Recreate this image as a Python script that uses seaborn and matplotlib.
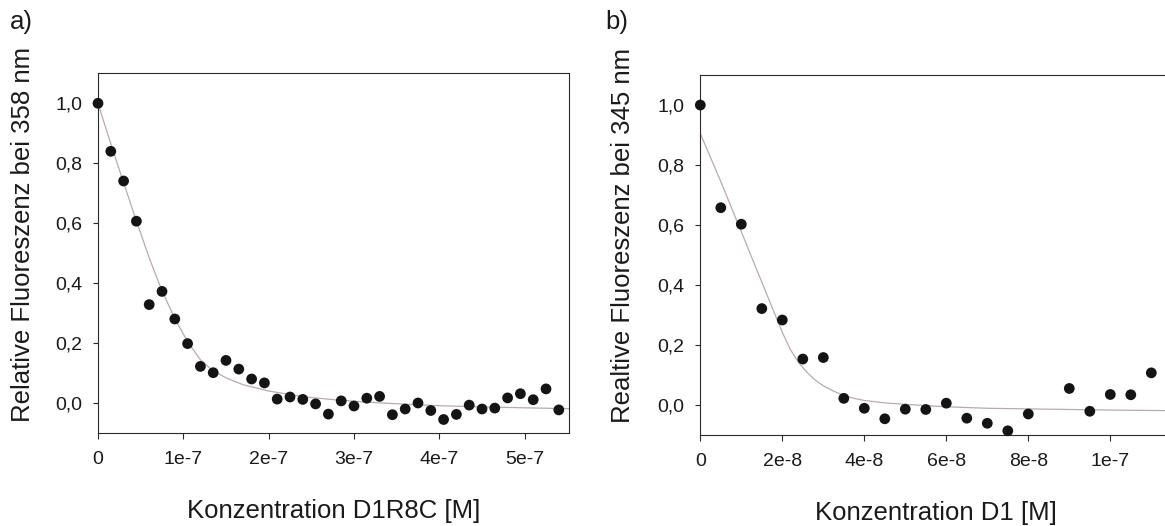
import matplotlib
matplotlib.use("Agg")
import matplotlib.pyplot as plt
import pandas as pd
import seaborn as sns

# ---------------- data ----------------
conc_a = [0, 15e-9, 30e-9, 45e-9, 60e-9, 75e-9, 90e-9, 105e-9, 120e-9, 135e-9,
          150e-9, 165e-9, 180e-9, 195e-9, 210e-9, 225e-9, 240e-9, 255e-9, 270e-9,
          285e-9, 300e-9, 315e-9, 330e-9, 345e-9, 360e-9, 375e-9, 390e-9, 405e-9,
          420e-9, 435e-9, 450e-9, 465e-9, 480e-9, 495e-9, 510e-9, 525e-9, 540e-9]
fluor_a = [1.00, 0.84, 0.741, 0.607, 0.329, 0.373, 0.281, 0.199, 0.123, 0.102,
           0.143, 0.114, 0.081, 0.068, 0.014, 0.021, 0.013, -0.002, -0.036,
           0.008, -0.009, 0.017, 0.023, -0.038, -0.019, 0.001, -0.024, -0.054,
           -0.037, -0.006, -0.019, -0.016, 0.018, 0.032, 0.012, 0.048, -0.022]

fit_x_a = [0, 0.15e-7, 0.30e-7, 0.45e-7, 0.60e-7, 0.75e-7, 0.90e-7, 1.05e-7,
           1.20e-7, 1.35e-7, 1.50e-7, 1.70e-7, 2.00e-7, 2.40e-7, 2.80e-7,
           3.20e-7, 3.60e-7, 4.00e-7, 4.50e-7, 5.00e-7, 5.52e-7]
fit_y_a = [1.000, 0.865, 0.735, 0.608, 0.485, 0.375, 0.283, 0.205, 0.145,
           0.108, 0.085, 0.062, 0.041, 0.022, 0.011, 0.003, -0.003, -0.008,
           -0.012, -0.015, -0.018]

conc_b = [0, 0.5e-8, 1.0e-8, 1.5e-8, 2.0e-8, 2.5e-8, 3.0e-8, 3.5e-8, 4.0e-8,
          4.5e-8, 5.0e-8, 5.5e-8, 6.0e-8, 6.5e-8, 7.0e-8, 7.5e-8, 8.0e-8,
          9.0e-8, 9.5e-8, 10.0e-8, 10.5e-8, 11.0e-8]
fluor_b = [1.00, 0.658, 0.603, 0.322, 0.284, 0.154, 0.159, 0.023, -0.010,
           -0.045, -0.013, -0.014, 0.007, -0.043, -0.060, -0.085, -0.029,
           0.056, -0.020, 0.036, 0.035, 0.108]

fit_x_b = [0, 0.5e-8, 1.0e-8, 1.5e-8, 2.0e-8, 2.2e-8, 2.4e-8, 2.6e-8, 2.8e-8,
           3.0e-8, 3.25e-8, 3.5e-8, 3.75e-8, 4.0e-8, 4.5e-8, 5.0e-8, 6.0e-8,
           7.0e-8, 8.0e-8, 9.0e-8, 10.0e-8, 11.5e-8]
fit_y_b = [0.905, 0.745, 0.578, 0.410, 0.243, 0.185, 0.142, 0.110, 0.084,
           0.065, 0.047, 0.033, 0.023, 0.016, 0.008, 0.003, -0.005, -0.010,
           -0.012, -0.014, -0.016, -0.018]

y_ticks = [0.0, 0.2, 0.4, 0.6, 0.8, 1.0]
y_ticklabels = ["0,0", "0,2", "0,4", "0,6", "0,8", "1,0"]
x_ticks_a = [0, 1e-7, 2e-7, 3e-7, 4e-7, 5e-7]
x_ticklabels_a = ["0", "1e-7", "2e-7", "3e-7", "4e-7", "5e-7"]
x_ticks_b = [0, 2e-8, 4e-8, 6e-8, 8e-8, 1e-7]
x_ticklabels_b = ["0", "2e-8", "4e-8", "6e-8", "8e-8", "1e-7"]

ylabel_a = "Relative Fluoreszenz bei 358 nm"
ylabel_b = "Realtive Fluoreszenz bei 345 nm"
xlabel_a = "Konzentration D1R8C [M]"
xlabel_b = "Konzentration D1 [M]"

# ---------------- style ----------------
sns.set_style("ticks")
plt.rcParams["font.family"] = ["Liberation Sans", "DejaVu Sans"]
plt.rcParams["axes.edgecolor"] = "#2a2a2a"
plt.rcParams["axes.linewidth"] = 0.8
plt.rcParams["xtick.color"] = "#2a2a2a"
plt.rcParams["ytick.color"] = "#2a2a2a"
plt.rcParams["xtick.labelcolor"] = "#1a1a1a"
plt.rcParams["ytick.labelcolor"] = "#1a1a1a"

W, H = 1165, 526
fig = plt.figure(figsize=(W / 100, H / 100), dpi=100)
fig.patch.set_facecolor("white")

ax_a = fig.add_axes([98 / W, 1 - 433.3 / H, 471.3 / W, 360.0 / H])
ax_b = fig.add_axes([700.3 / W, 1 - 435.3 / H, 471.5 / W, 360.3 / H])

dot_color = "#141414"
fit_color = "#b7acac"
TICK_FS = 14
LABEL_FS = 18.5

panels = [
    (ax_a, conc_a, fluor_a, fit_x_a, fit_y_a, (0, 5.523e-7), x_ticks_a, x_ticklabels_a,
     xlabel_a, ylabel_a, (-0.160, 0.552)),
    (ax_b, conc_b, fluor_b, fit_x_b, fit_y_b, (0, 1.15e-7), x_ticks_b, x_ticklabels_b,
     xlabel_b, ylabel_b, (-0.164, 0.555)),
]

for ax, cx, cy, fx, fy, xlim, xt, xtl, xl, yl, ylc in panels:
    ax.set_facecolor("white")
    fit_df = pd.DataFrame({"c": fx, "f": fy})
    pts_df = pd.DataFrame({"c": cx, "f": cy})
    sns.lineplot(data=fit_df, x="c", y="f", ax=ax, color=fit_color, linewidth=0.9,
                 sort=False, zorder=2)
    sns.scatterplot(data=pts_df, x="c", y="f", ax=ax, s=60, color=dot_color,
                    edgecolor="none", linewidth=0, zorder=3, clip_on=False)
    ax.set_xlim(*xlim)
    ax.set_ylim(-0.1, 1.1)
    ax.set_xticks(xt)
    ax.set_xticklabels(xtl, fontsize=TICK_FS)
    ax.set_yticks(y_ticks)
    ax.set_yticklabels(y_ticklabels, fontsize=TICK_FS)
    ax.tick_params(axis="x", direction="out", length=4, width=0.8, pad=9)
    ax.tick_params(axis="y", direction="out", length=3.5, width=0.8, pad=8)
    ax.minorticks_off()
    for s in ["top", "right", "left", "bottom"]:
        ax.spines[s].set_visible(True)
        ax.spines[s].set_color("#2a2a2a")
        ax.spines[s].set_linewidth(0.8)
    ax.set_xlabel(xl, fontsize=LABEL_FS, color="#1a1a1a")
    ax.set_ylabel(yl, fontsize=LABEL_FS, color="#1a1a1a")
    ax.xaxis.label.set_verticalalignment("center")
    ax.yaxis.label.set_verticalalignment("center")
    ax.xaxis.set_label_coords(0.5, -0.215)
    ax.yaxis.set_label_coords(*ylc)

fig.text(10 / W, 1 - 22 / H, "a)", fontsize=LABEL_FS, ha="left", va="center",
         color="#1a1a1a")
fig.text(605 / W, 1 - 22 / H, "b)", fontsize=LABEL_FS, ha="left", va="center",
         color="#1a1a1a")

fig.savefig("out.png", dpi=100, facecolor="white")
